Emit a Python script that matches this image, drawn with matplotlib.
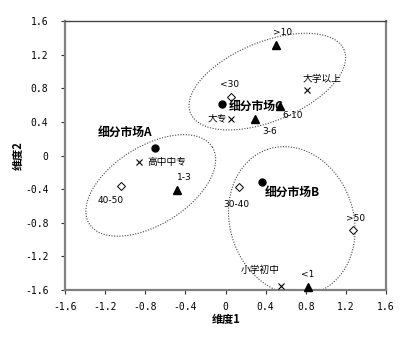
import numpy as np
import matplotlib
matplotlib.use("Agg")
import matplotlib.pyplot as plt

plt.rcParams['font.family'] = ['Noto Sans CJK SC', 'DejaVu Sans']
plt.rcParams['axes.unicode_minus'] = False

# ---- data ----
segment_names = ["细分市场A", "细分市场C", "细分市场B"]
segment_x = [-0.70, -0.03, 0.36]
segment_y = [0.09, 0.61, -0.31]

edu_names = ["高中中专", "大专", "大学以上", "小学初中"]
edu_x = [-0.86, 0.05, 0.81, 0.55]
edu_y = [-0.08, 0.44, 0.78, -1.55]

age_names = ["40-50", "<30", "30-40", ">50"]
age_x = [-1.04, 0.05, 0.13, 1.27]
age_y = [-0.365, 0.69, -0.37, -0.89]

year_names = ["1-3", ">10", "3-6", "6-10", "<1"]
year_x = [-0.48, 0.50, 0.29, 0.54, 0.82]
year_y = [-0.41, 1.32, 0.43, 0.59, -1.56]

ticks = [-1.6, -1.2, -0.8, -0.4, 0, 0.4, 0.8, 1.2, 1.6]
tick_labels = ["-1.6", "-1.2", "-0.8", "-0.4", "0", "0.4", "0.8", "1.2", "1.6"]

# cluster outlines: centre (x, y), semi-axes in x-units, rotation (deg)
cluster_cx = [-0.745, 0.417, 0.661]
cluster_cy = [-0.356, 0.879, -0.778]
cluster_a = [0.723, 0.828, 0.753]
cluster_b = [0.390, 0.395, 0.616]
cluster_ang = [32.0, 22.3, 108.5]

# label offsets in pixels (dx, dy) and alignment
seg_off = [(-30, 16, 'center'), (6, -2, 'left'), (3, -11, 'left')]
edu_off = [(8, 0, 'left'), (-3, 0, 'right'), (15, 11, 'center'), (-20, 16, 'center')]
age_off = [(-11, -14, 'center'), (-1, 13, 'center'), (-2, -18, 'center'), (3, 12, 'center')]
year_off = [(7, 12, 'center'), (7, 12, 'center'), (15, -12, 'center'),
            (13, -10, 'center'), (0, 12, 'center')]

fig = plt.figure(figsize=(4.2, 3.43), dpi=100)
ax = fig.add_axes([65/420, 1-290/343, 321/420, 269/343])
ax.set_xlim(-1.6, 1.6)
ax.set_ylim(-1.6, 1.6)

# pixel aspect of one data unit along x vs y
ratio = (321/3.2) / (269/3.2)

t = np.linspace(0, 2*np.pi, 400)
for cx, cy, a, b, ang in zip(cluster_cx, cluster_cy, cluster_a, cluster_b, cluster_ang):
    th = np.deg2rad(ang)
    ex, ey = a*np.cos(t), b*np.sin(t)
    rx = ex*np.cos(th) - ey*np.sin(th)
    ry = ex*np.sin(th) + ey*np.cos(th)
    ax.plot(cx + rx, cy + ry*ratio, color='#444444', lw=0.8,
            linestyle=(0, (1, 1.4)), zorder=1)

mk = dict(clip_on=False, zorder=3, linestyle='none')
ax.plot(segment_x, segment_y, marker='o', ms=5, color='black', **mk)
ax.plot(edu_x, edu_y, marker='x', ms=4.5, mew=0.8, color='black', **mk)
ax.plot(age_x, age_y, marker='D', ms=3.8, mew=0.7, mfc='white', mec='black', **mk)
ax.plot(year_x, year_y, marker='^', ms=6, color='black', **mk)

def put(names, xs, ys, offs, **kw):
    for n, x, y, (dx, dy, ha) in zip(names, xs, ys, offs):
        ax.annotate(n, (x, y), xytext=(dx, dy), textcoords='offset pixels',
                    ha=ha, va='center', zorder=4, annotation_clip=False, **kw)

put(segment_names, segment_x, segment_y, seg_off, fontsize=8.5, fontweight='bold')
put(edu_names, edu_x, edu_y, edu_off, fontsize=7)
put(age_names, age_x, age_y, age_off, fontsize=6.5, family='DejaVu Sans')
put(year_names, year_x, year_y, year_off, fontsize=6.5, family='DejaVu Sans')

ax.set_xticks(ticks)
ax.set_xticklabels(tick_labels, family='DejaVu Sans Mono', fontsize=7)
ax.set_yticks(ticks)
ax.set_yticklabels(tick_labels, family='DejaVu Sans Mono', fontsize=7)
ax.tick_params(direction='out', length=3, width=0.8, color='#333333')
ax.tick_params(axis='x', pad=6)
ax.tick_params(axis='y', pad=9)

for side in ['left', 'right', 'bottom']:
    ax.spines[side].set_color('#808080')
    ax.spines[side].set_linewidth(1.6)
ax.spines['top'].set_color('#444444')
ax.spines['top'].set_linewidth(1.0)

fig.text(226/420, 1-320/343, "维度1", ha='center', va='center',
         fontsize=8, fontweight='bold')
fig.text(18/420, 1-156/343, "维度2", ha='center', va='center',
         fontsize=8, fontweight='bold', rotation=90)

fig.savefig("out.png", dpi=100)
